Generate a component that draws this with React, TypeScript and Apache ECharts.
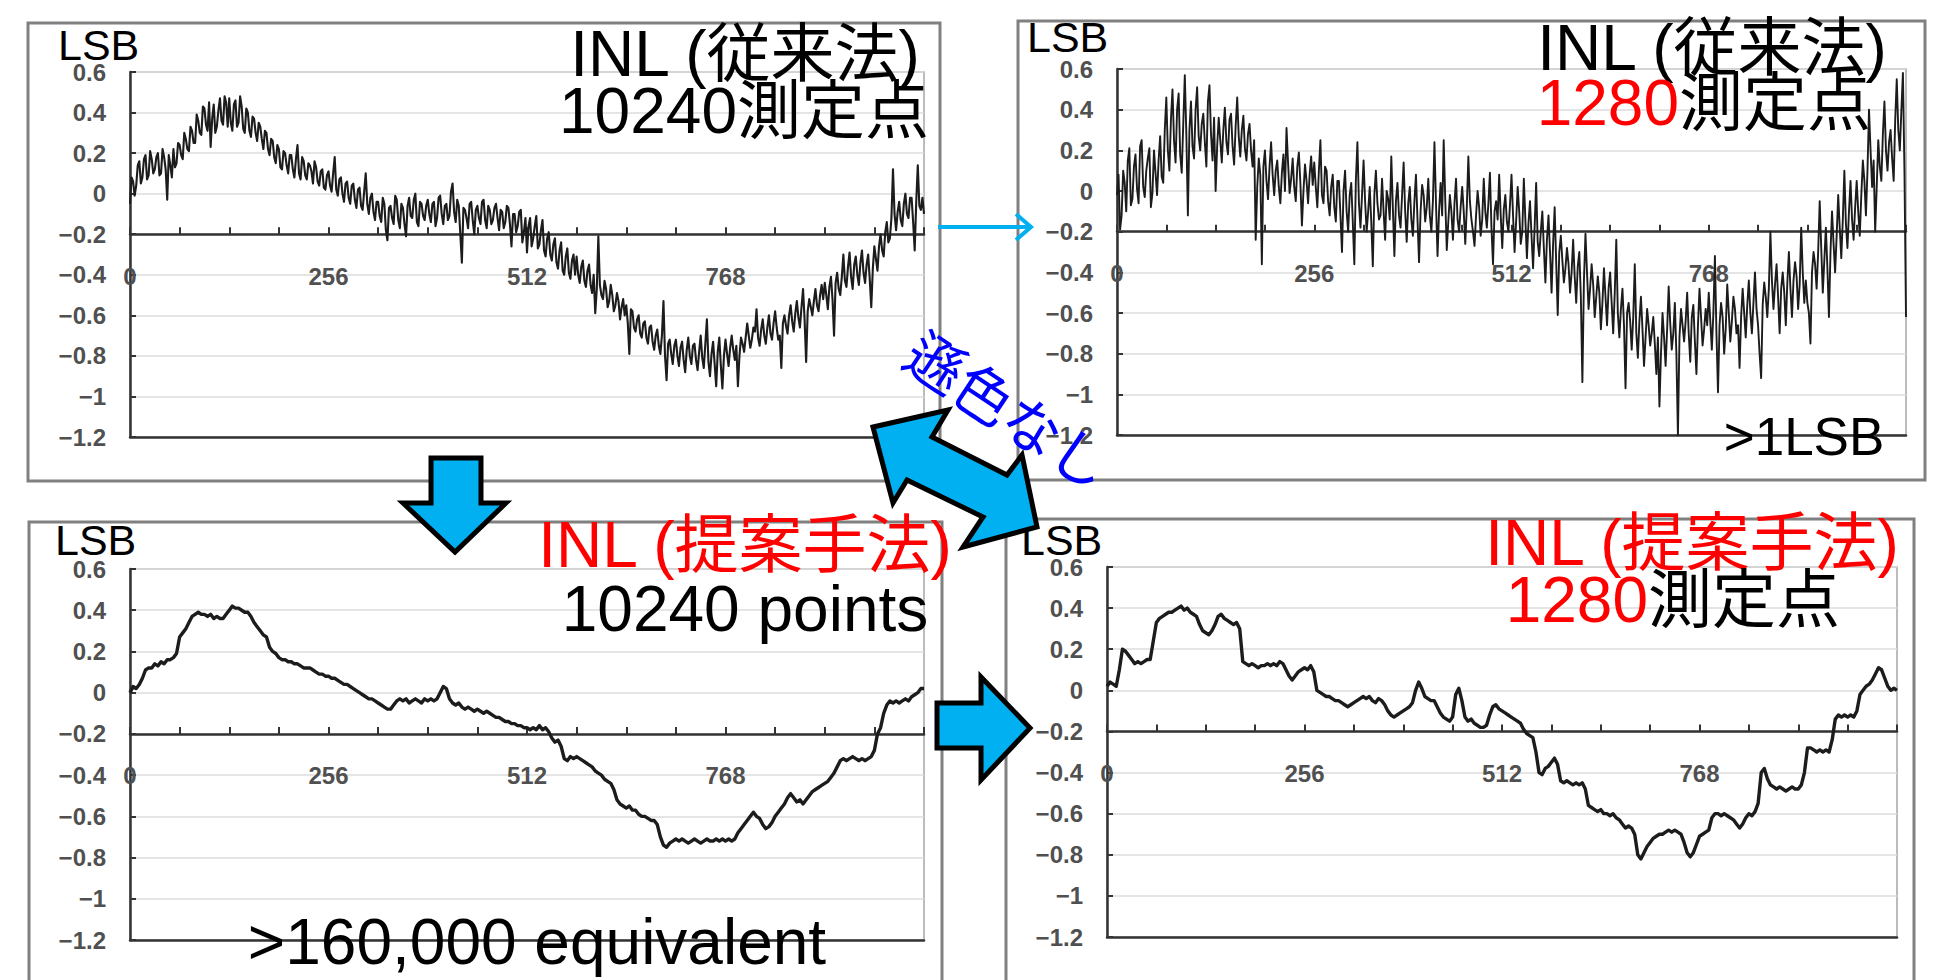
import React, { useEffect, useRef } from "react";
import * as echarts from "echarts";

// ---- data ----
const CODE_STEP = 4; // DAC code spacing between stored samples
const HALF_STEP = 2; // extra samples half-way between them (noisy traces)
const X_MAX = 1024;
const X_TICK = 64;
const X_LABELS = [0, 256, 512, 768];
const Y_MIN = -1.2;
const Y_MAX = 0.6;
const Y_STEP = 0.2;
const AXIS_CROSS = -0.2;

// INL, conventional method, 10240 measurement points (codes 0,4,8,...,1024)
const INL_CONV_10240 = [
  -0.05, 0.06, 0.04, 0.16, 0.08, 0.19, 0.09, 0.17, 0.12, 0.20, 0.10, 0.18, -0.03, 0.14, 0.22, 0.15,
  0.24, 0.17, 0.27, 0.21, 0.31, 0.25, 0.36, 0.29, 0.42, 0.31, 0.23, 0.44, 0.33, 0.47, 0.34, 0.45,
  0.47, 0.31, 0.46, 0.35, 0.43, 0.30, 0.40, 0.28, 0.37, 0.26, 0.33, 0.22, 0.30, 0.19, 0.26, 0.15,
  0.22, 0.12, 0.20, 0.10, 0.19, 0.08, 0.24, 0.07, 0.16, 0.07, 0.14, 0.05, 0.13, 0.04, 0.12, 0.02,
  0.11, 0.01, 0.18, -0.01, 0.08, -0.04, 0.06, -0.05, 0.05, -0.07, 0.03, -0.08, 0.10, -0.10, 0.00, -0.13,
  -0.04, -0.14, -0.05, -0.23, -0.06, -0.15, -0.03, -0.17, -0.07, -0.21, -0.02, -0.12, 0.00, -0.16, -0.05, -0.13,
  -0.03, -0.14, -0.04, -0.12, -0.01, -0.15, -0.05, -0.11, 0.05, -0.14, -0.06, -0.34, -0.08, -0.17, -0.04, -0.20,
  -0.06, -0.15, -0.03, -0.17, -0.08, -0.13, -0.05, -0.18, -0.09, -0.14, -0.07, -0.26, -0.10, -0.16, -0.08, -0.19,
  -0.29, -0.12, -0.22, -0.11, -0.25, -0.13, -0.31, -0.19, -0.33, -0.22, -0.37, -0.24, -0.40, -0.27, -0.42, -0.30,
  -0.31, -0.44, -0.33, -0.46, -0.35, -0.49, -0.59, -0.21, -0.50, -0.43, -0.56, -0.45, -0.58, -0.49, -0.62, -0.52,
  -0.55, -0.79, -0.58, -0.68, -0.60, -0.71, -0.63, -0.74, -0.65, -0.77, -0.67, -0.79, -0.53, -0.92, -0.72, -0.84,
  -0.72, -0.85, -0.73, -0.88, -0.71, -0.84, -0.74, -0.87, -0.70, -0.86, -0.62, -0.90, -0.73, -0.95, -0.71, -0.96,
  -0.72, -0.85, -0.70, -0.82, -0.95, -0.71, -0.78, -0.64, -0.76, -0.66, -0.57, -0.75, -0.62, -0.74, -0.60, -0.72,
  -0.58, -0.72, -0.86, -0.60, -0.69, -0.55, -0.68, -0.53, -0.66, -0.47, -0.83, -0.52, -0.60, -0.47, -0.58, -0.45,
  -0.44, -0.57, -0.41, -0.70, -0.39, -0.50, -0.30, -0.46, -0.29, -0.47, -0.31, -0.45, -0.28, -0.44, -0.30, -0.56,
  -0.26, -0.38, -0.20, -0.31, -0.14, -0.22, 0.12, -0.18, -0.04, -0.16, 0.00, -0.12, -0.02, -0.28, 0.14, -0.08, -0.10,
];
// same trace, codes 2,6,10,...,1022
const INL_CONV_10240_MID = [
  0.08, -0.01, 0.14, 0.05, 0.17, 0.07, 0.21, 0.10, 0.18, 0.09, 0.22, 0.12, 0.19, 0.08, 0.13, 0.25,
  0.19, 0.30, 0.22, 0.33, 0.25, 0.39, 0.30, 0.43, 0.34, 0.45, 0.37, 0.30, 0.41, 0.36, 0.48, 0.33,
  0.35, 0.44, 0.33, 0.48, 0.32, 0.42, 0.31, 0.38, 0.30, 0.35, 0.27, 0.31, 0.22, 0.27, 0.18, 0.24,
  0.13, 0.21, 0.14, 0.19, 0.12, 0.17, 0.10, 0.18, 0.09, 0.15, 0.11, 0.16, 0.06, 0.11, 0.03, 0.09,
  0.04, 0.10, 0.02, 0.07, 0.00, 0.05, -0.02, 0.04, -0.03, 0.02, -0.06, 0.01, -0.05, -0.02, -0.09, -0.04,
  -0.11, -0.02, -0.18, -0.07, -0.12, -0.01, -0.13, -0.05, -0.15, -0.06, -0.11, -0.03, -0.14, -0.04, -0.11, -0.06,
  -0.10, -0.05, -0.16, -0.02, -0.10, -0.06, -0.13, 0.01, -0.09, -0.03, -0.20, -0.07, -0.12, -0.05, -0.13, -0.08,
  -0.12, -0.04, -0.13, -0.06, -0.15, -0.07, -0.12, -0.08, -0.17, -0.06, -0.15, -0.10, -0.19, -0.09, -0.24, -0.12,
  -0.16, -0.26, -0.16, -0.27, -0.18, -0.28, -0.22, -0.30, -0.25, -0.34, -0.28, -0.38, -0.31, -0.39, -0.33, -0.40,
  -0.40, -0.36, -0.43, -0.38, -0.45, -0.40, -0.47, -0.45, -0.52, -0.47, -0.53, -0.50, -0.55, -0.53, -0.56, -0.60,
  -0.64, -0.57, -0.66, -0.62, -0.69, -0.64, -0.71, -0.66, -0.73, -0.70, -0.75, -0.70, -0.80, -0.74, -0.79, -0.75,
  -0.80, -0.76, -0.82, -0.77, -0.80, -0.75, -0.82, -0.78, -0.81, -0.74, -0.83, -0.79, -0.84, -0.78, -0.85, -0.80,
  -0.79, -0.76, -0.77, -0.75, -0.80, -0.74, -0.71, -0.70, -0.72, -0.68, -0.71, -0.67, -0.70, -0.66, -0.69, -0.64,
  -0.66, -0.70, -0.64, -0.65, -0.60, -0.63, -0.59, -0.61, -0.56, -0.62, -0.58, -0.56, -0.53, -0.55, -0.50, -0.52,
  -0.50, -0.46, -0.52, -0.44, -0.47, -0.41, -0.43, -0.36, -0.41, -0.35, -0.40, -0.34, -0.39, -0.35, -0.42, -0.37,
  -0.32, -0.26, -0.28, -0.19, -0.24, -0.12, -0.10, -0.09, -0.13, -0.05, -0.10, -0.02, -0.14, -0.04, -0.06, -0.02,
];

// INL, conventional method, 1280 measurement points (codes 0,4,...,1024)
const INL_CONV_1280 = [
  -0.02, -0.19, 0.10, -0.10, 0.21, -0.04, 0.18, -0.06, 0.25, -0.03, 0.16, -0.08, 0.20, -0.02, 0.27, 0.04,
  0.46, 0.10, 0.50, 0.14, 0.48, 0.09, 0.57, -0.12, 0.44, 0.16, 0.51, 0.20, 0.38, 0.12, 0.52, 0.15,
  0.00, 0.36, 0.14, 0.41, 0.18, 0.38, 0.13, 0.46, 0.17, 0.37, 0.15, 0.33, 0.12, -0.24, 0.16, -0.36,
  0.20, -0.04, 0.24, -0.02, 0.15, -0.06, 0.18, 0.31, -0.01, 0.16, -0.05, 0.19, -0.17, 0.13, -0.06, 0.17,
  0.14, -0.08, 0.25, -0.06, 0.10, -0.12, 0.08, -0.15, 0.05, -0.30, 0.10, -0.20, 0.04, -0.36, 0.24, -0.18,
  0.15, -0.20, 0.02, -0.37, 0.10, -0.14, 0.06, -0.24, -0.04, 0.17, -0.32, 0.04, -0.18, 0.14, -0.25, 0.02,
  -0.22, 0.08, -0.35, 0.03, -0.15, 0.06, -0.20, 0.24, -0.32, 0.04, 0.25, -0.29, -0.02, -0.24, 0.06, -0.20,
  0.02, -0.26, 0.17, -0.14, -0.27, 0.00, -0.22, 0.06, -0.18, 0.09, -0.36, -0.05, 0.08, -0.28, -0.02, -0.20,
  0.08, -0.30, 0.02, -0.26, 0.06, -0.33, -0.05, -0.38, 0.04, -0.32, -0.10, -0.45, -0.12, -0.50, -0.08, -0.61,
  -0.22, -0.45, -0.28, -0.50, -0.24, -0.55, -0.30, -0.94, -0.21, -0.58, -0.36, -0.62, -0.42, -0.68, -0.38, -0.66,
  -0.40, -0.70, -0.24, -0.72, -0.48, -0.97, -0.55, -0.78, -0.36, -0.82, -0.52, -0.86, -0.58, -0.76, -0.62, -0.90,
  -1.06, -0.60, -0.86, -0.47, -0.78, -0.55, -1.20, -0.58, -0.74, -0.50, -0.84, -0.56, -0.90, -0.48, -0.76, -0.58,
  -0.50, -0.78, -0.32, -0.99, -0.55, -0.80, -0.46, -0.74, -0.52, -0.70, -0.87, -0.48, -0.72, -0.44, -0.70, -0.40,
  -0.66, -0.92, -0.45, -0.62, -0.20, -0.58, -0.36, -0.70, -0.40, -0.66, -0.30, -0.62, -0.35, -0.58, -0.18, -0.55,
  -0.55, -0.75, -0.30, -0.48, -0.05, -0.50, -0.18, -0.62, -0.10, -0.40, -0.02, -0.33, 0.10, -0.28, 0.05, -0.24,
  0.05, -0.22, 0.15, -0.12, 0.40, 0.02, -0.20, 0.25, 0.05, 0.44, 0.10, 0.30, 0.05, 0.55, 0.20, 0.58, -0.62,
];
// same trace, codes 2,6,...,1022
const INL_CONV_1280_MID = [
  0.08, -0.12, 0.04, 0.15, -0.07, 0.12, 0.01, 0.22, 0.02, 0.10, 0.21, -0.01, 0.09, 0.15, 0.07, 0.30,
  0.20, 0.35, 0.25, 0.40, 0.18, 0.33, 0.28, 0.30, 0.22, 0.40, 0.27, 0.33, 0.24, 0.44, 0.28, 0.36,
  0.22, 0.25, 0.30, 0.24, 0.35, 0.22, 0.32, 0.27, 0.30, 0.21, 0.28, 0.20, 0.25, 0.02, 0.08, 0.12,
  0.05, 0.12, 0.08, 0.10, 0.02, 0.09, 0.00, 0.14, 0.06, 0.02, 0.12, 0.04, 0.00, 0.05, 0.08, 0.03,
  0.02, 0.10, -0.02, 0.12, -0.05, 0.02, -0.08, 0.05, -0.12, 0.00, -0.10, -0.02, -0.15, 0.05, -0.06, -0.02,
  -0.05, -0.10, -0.15, -0.02, -0.06, -0.12, -0.10, 0.00, -0.14, -0.08, -0.05, -0.12, -0.02, -0.10, -0.06, -0.14,
  -0.05, -0.14, -0.10, -0.02, -0.08, -0.12, -0.05, -0.06, -0.10, -0.12, -0.04, -0.15, -0.10, -0.06, -0.14, -0.08,
  -0.10, -0.08, -0.05, -0.20, -0.12, -0.08, -0.14, -0.10, -0.06, -0.18, -0.10, -0.14, -0.12, -0.09, -0.15, -0.07,
  -0.12, -0.15, -0.10, -0.20, -0.14, -0.16, -0.22, -0.18, -0.25, -0.20, -0.28, -0.24, -0.30, -0.26, -0.35, -0.30,
  -0.34, -0.38, -0.36, -0.40, -0.42, -0.37, -0.52, -0.44, -0.40, -0.48, -0.46, -0.52, -0.50, -0.55, -0.52, -0.48,
  -0.55, -0.50, -0.60, -0.58, -0.66, -0.60, -0.64, -0.62, -0.70, -0.64, -0.68, -0.72, -0.66, -0.70, -0.75, -0.72,
  -0.80, -0.72, -0.68, -0.65, -0.70, -0.80, -0.72, -0.66, -0.64, -0.70, -0.62, -0.74, -0.66, -0.62, -0.68, -0.66,
  -0.64, -0.60, -0.70, -0.66, -0.62, -0.68, -0.60, -0.64, -0.58, -0.66, -0.62, -0.60, -0.56, -0.60, -0.55, -0.58,
  -0.80, -0.56, -0.52, -0.48, -0.44, -0.46, -0.52, -0.48, -0.50, -0.45, -0.48, -0.44, -0.42, -0.46, -0.40, -0.44,
  -0.60, -0.40, -0.36, -0.30, -0.28, -0.34, -0.38, -0.30, -0.26, -0.22, -0.18, -0.14, -0.16, -0.10, -0.14, -0.08,
  -0.10, -0.02, 0.05, 0.10, 0.20, 0.15, 0.02, 0.12, 0.28, 0.20, 0.24, 0.16, 0.35, 0.30, 0.40, 0.10,
];

// INL, proposed method, 10240 points (codes 0,4,...,1024)
const INL_PROP_10240 = [
  0.00, 0.03, 0.02, 0.04, 0.07, 0.11, 0.12, 0.12, 0.14, 0.13, 0.15, 0.14, 0.16, 0.16, 0.17, 0.19,
  0.27, 0.29, 0.31, 0.34, 0.37, 0.38, 0.39, 0.38, 0.38, 0.37, 0.38, 0.36, 0.37, 0.36, 0.36, 0.38,
  0.40, 0.42, 0.41, 0.41, 0.40, 0.39, 0.39, 0.37, 0.34, 0.32, 0.30, 0.28, 0.27, 0.22, 0.20, 0.19,
  0.17, 0.16, 0.16, 0.15, 0.15, 0.14, 0.14, 0.13, 0.12, 0.12, 0.12, 0.11, 0.10, 0.09, 0.09, 0.08,
  0.08, 0.07, 0.07, 0.06, 0.05, 0.04, 0.04, 0.03, 0.02, 0.01, 0.00, -0.01, -0.02, -0.03, -0.03, -0.04,
  -0.05, -0.06, -0.07, -0.08, -0.08, -0.06, -0.04, -0.03, -0.04, -0.03, -0.05, -0.04, -0.03, -0.04, -0.05, -0.03,
  -0.04, -0.03, -0.04, -0.03, 0.00, 0.03, 0.02, -0.03, -0.05, -0.06, -0.05, -0.07, -0.08, -0.07, -0.08, -0.09,
  -0.08, -0.09, -0.10, -0.09, -0.10, -0.11, -0.12, -0.12, -0.13, -0.14, -0.14, -0.15, -0.15, -0.16, -0.16, -0.17,
  -0.17, -0.18, -0.17, -0.18, -0.16, -0.18, -0.17, -0.19, -0.22, -0.24, -0.23, -0.26, -0.32, -0.33, -0.31, -0.32,
  -0.31, -0.32, -0.33, -0.34, -0.35, -0.36, -0.38, -0.39, -0.40, -0.42, -0.43, -0.44, -0.47, -0.52, -0.54, -0.55,
  -0.56, -0.55, -0.57, -0.57, -0.59, -0.60, -0.60, -0.61, -0.62, -0.62, -0.64, -0.70, -0.74, -0.75, -0.73, -0.72,
  -0.71, -0.72, -0.71, -0.72, -0.73, -0.72, -0.71, -0.72, -0.73, -0.72, -0.71, -0.72, -0.72, -0.71, -0.72, -0.71,
  -0.72, -0.71, -0.72, -0.71, -0.68, -0.66, -0.64, -0.62, -0.60, -0.58, -0.60, -0.61, -0.64, -0.66, -0.65, -0.63,
  -0.60, -0.58, -0.56, -0.54, -0.51, -0.49, -0.51, -0.53, -0.52, -0.54, -0.52, -0.50, -0.48, -0.47, -0.46, -0.45,
  -0.44, -0.43, -0.41, -0.39, -0.36, -0.33, -0.32, -0.33, -0.32, -0.31, -0.32, -0.33, -0.32, -0.33, -0.32, -0.31,
  -0.28, -0.20, -0.17, -0.10, -0.06, -0.04, -0.05, -0.04, -0.05, -0.04, -0.03, -0.04, -0.02, -0.01, 0.00, 0.02, 0.02,
];

// INL, proposed method, 1280 measurement points (codes 0,4,...,1024)
const INL_PROP_1280 = [
  0.02, 0.04, 0.03, 0.02, 0.10, 0.20, 0.19, 0.17, 0.15, 0.13, 0.14, 0.13, 0.14, 0.15, 0.15, 0.24,
  0.33, 0.35, 0.36, 0.37, 0.38, 0.38, 0.39, 0.40, 0.41, 0.39, 0.40, 0.38, 0.37, 0.36, 0.32, 0.29,
  0.28, 0.27, 0.29, 0.32, 0.36, 0.37, 0.35, 0.34, 0.33, 0.32, 0.33, 0.30, 0.14, 0.13, 0.12, 0.13,
  0.12, 0.11, 0.12, 0.12, 0.13, 0.12, 0.13, 0.12, 0.14, 0.13, 0.10, 0.07, 0.05, 0.07, 0.09, 0.10,
  0.11, 0.10, 0.12, 0.09, 0.00, -0.01, -0.02, -0.03, -0.03, -0.04, -0.05, -0.05, -0.06, -0.07, -0.08, -0.07,
  -0.06, -0.05, -0.04, -0.03, -0.04, -0.03, -0.05, -0.06, -0.04, -0.05, -0.07, -0.10, -0.12, -0.13, -0.12, -0.11,
  -0.10, -0.09, -0.08, -0.06, 0.00, 0.04, 0.01, -0.03, -0.04, -0.05, -0.05, -0.08, -0.11, -0.13, -0.14, -0.15,
  -0.13, -0.02, 0.01, -0.05, -0.13, -0.15, -0.14, -0.16, -0.17, -0.18, -0.18, -0.17, -0.12, -0.08, -0.07, -0.09,
  -0.10, -0.11, -0.12, -0.13, -0.14, -0.15, -0.16, -0.19, -0.21, -0.22, -0.23, -0.30, -0.40, -0.41, -0.38, -0.37,
  -0.35, -0.33, -0.36, -0.44, -0.45, -0.44, -0.45, -0.46, -0.45, -0.46, -0.45, -0.48, -0.56, -0.57, -0.58, -0.59,
  -0.58, -0.60, -0.60, -0.61, -0.60, -0.62, -0.63, -0.65, -0.67, -0.66, -0.67, -0.70, -0.80, -0.82, -0.79, -0.76,
  -0.74, -0.72, -0.71, -0.70, -0.70, -0.69, -0.68, -0.69, -0.68, -0.69, -0.70, -0.74, -0.79, -0.81, -0.79, -0.75,
  -0.71, -0.70, -0.69, -0.68, -0.62, -0.60, -0.60, -0.61, -0.60, -0.61, -0.62, -0.63, -0.65, -0.67, -0.65, -0.62,
  -0.60, -0.61, -0.59, -0.55, -0.40, -0.38, -0.43, -0.46, -0.47, -0.48, -0.47, -0.48, -0.49, -0.48, -0.47, -0.48,
  -0.48, -0.46, -0.40, -0.28, -0.28, -0.29, -0.30, -0.29, -0.30, -0.29, -0.30, -0.24, -0.14, -0.12, -0.13, -0.12,
  -0.13, -0.12, -0.13, -0.10, -0.02, 0.00, 0.02, 0.03, 0.05, 0.08, 0.11, 0.10, 0.06, 0.02, 0.00, 0.01, 0.00,
];

// builds [code, value] pairs; optional half-step samples interleaved
function toPairs(main: number[], mid?: number[]) {
  const out: number[][] = [];
  main.forEach((v, i) => {
    out.push([i * CODE_STEP, v]);
    if (mid && i < mid.length) out.push([i * CODE_STEP + HALF_STEP, mid[i]]);
  });
  return out;
}

// ---- layout ----
const FONT = '"Liberation Sans", Arial, "Noto Sans CJK JP", sans-serif';
const CYAN = "#00b0f0";

const PANELS = [
  { left: 130, top: 72, width: 794, height: 365, data: toPairs(INL_CONV_10240, INL_CONV_10240_MID), lw: 2.1 },
  { left: 1117, top: 69, width: 789, height: 366, data: toPairs(INL_CONV_1280, INL_CONV_1280_MID), lw: 1.9 },
  { left: 130, top: 569, width: 794, height: 371, data: toPairs(INL_PROP_10240), lw: 3.4 },
  { left: 1107, top: 567, width: 790, height: 370, data: toPairs(INL_PROP_1280), lw: 3.4 },
];

const BOXES = [
  [28, 23, 912, 458],
  [1018, 21, 907, 459],
  [29, 522, 913, 470],
  [1006, 519, 908, 470],
];

type T = { text: string; x: number; y: number; size: number; color?: string; align?: string };
const TEXTS: T[] = [
  { text: "LSB", x: 58, y: 45, size: 43, align: "left" },
  { text: "LSB", x: 1027, y: 37, size: 43, align: "left" },
  { text: "LSB", x: 55, y: 540, size: 43, align: "left" },
  { text: "LSB", x: 1021, y: 540, size: 43, align: "left" },
  { text: "INL (従来法)", x: 745, y: 54, size: 64 },
  { text: "10240測定点", x: 744, y: 111, size: 64 },
  { text: "INL (従来法)", x: 1712, y: 48, size: 64 },
  { text: "1280", x: 1679, y: 103, size: 64, color: "#ff0000", align: "right" },
  { text: "測定点", x: 1679, y: 103, size: 64, align: "left" },
  { text: ">1LSB", x: 1804, y: 436, size: 53 },
  { text: "INL (提案手法)", x: 745, y: 545, size: 64, color: "#ff0000" },
  { text: "10240 points", x: 745, y: 609, size: 64 },
  { text: ">160,000 equivalent", x: 537, y: 942, size: 64 },
  { text: "INL (提案手法)", x: 1692, y: 543, size: 64, color: "#ff0000" },
  { text: "1280", x: 1648, y: 600, size: 64, color: "#ff0000", align: "right" },
  { text: "測定点", x: 1648, y: 600, size: 64, align: "left" },
];

const DOWN_ARROW = [[431, 458], [481, 458], [481, 503], [506, 503], [455, 552], [403, 503], [431, 503]];
const RIGHT_ARROW = [[937, 703], [981, 703], [981, 677], [1030, 728], [981, 780], [981, 748], [937, 748]];
const DOUBLE_ARROW = [[873, 427], [948, 410], [932, 437], [1007, 475], [1022, 455], [1037, 527], [963, 547], [983, 517], [907, 480], [893, 503]];

export default function App() {
  const ref = useRef<HTMLDivElement>(null);
  useEffect(() => {
    if (!ref.current) return;
    const chart = echarts.init(ref.current, undefined, { renderer: "svg" });
    const lineStyle = { color: "#333", width: 2.5 };
    const labelBase = { fontSize: 24, fontWeight: "bold", color: "#505050", fontFamily: FONT };

    const grid = PANELS.map((p) => ({
      left: p.left, top: p.top, width: p.width, height: p.height,
      show: true, borderColor: "#a6a6a6", borderWidth: 1.5,
      containLabel: false, outerBoundsMode: "none",
    }));

    const xAxis: any[] = [];
    PANELS.forEach((p, i) => {
      xAxis.push({
        gridIndex: i, type: "value", min: 0, max: X_MAX, interval: X_TICK,
        position: "top",
        offset: -(p.height * (Y_MAX - AXIS_CROSS)) / (Y_MAX - Y_MIN),
        axisLine: { show: true, onZero: false, lineStyle },
        axisTick: { show: true, inside: false, length: 7, lineStyle: { color: "#333", width: 2 } },
        axisLabel: {
          ...labelBase, show: true, inside: true, interval: 0, margin: 30,
          showMinLabel: true, showMaxLabel: true,
          formatter: (v: number) => (X_LABELS.includes(v) ? String(v) : ""),
        },
        splitLine: { show: false },
      });
      xAxis.push({
        gridIndex: i, type: "value", min: 0, max: X_MAX, position: "bottom",
        axisLine: { show: true, onZero: false, lineStyle },
        axisTick: { show: false }, axisLabel: { show: false }, splitLine: { show: false },
      });
    });

    const yAxis = PANELS.map((p, i) => ({
      gridIndex: i, type: "value", min: Y_MIN, max: Y_MAX, interval: Y_STEP,
      axisLine: { show: true, onZero: false, lineStyle },
      axisTick: { show: true, inside: true, length: 6, lineStyle: { color: "#333", width: 2 } },
      axisLabel: {
        ...labelBase, margin: 24,
        formatter: (v: number) => String(Math.round(v * 10) / 10).replace("-", "\u2212"),
      },
      splitLine: { show: true, lineStyle: { color: "#dcdcdc", width: 1.5 } },
    }));

    const series = PANELS.map((p, i) => ({
      type: "line", xAxisIndex: 2 * i, yAxisIndex: i,
      data: p.data,
      showSymbol: false, symbol: "none", silent: true, z: 3,
      lineStyle: { color: "#1c1c1c", width: p.lw, join: "round" },
    }));

    const elements: any[] = [];
    BOXES.forEach(([x, y, w, h]) =>
      elements.push({ type: "rect", shape: { x, y, width: w, height: h }, style: { fill: "none", stroke: "#808080", lineWidth: 3 }, z: 1, silent: true })
    );
    TEXTS.forEach((t) =>
      elements.push({
        type: "text", x: t.x, y: t.y, z: 100, silent: true,
        style: { text: t.text, fontSize: t.size, fontFamily: FONT, fill: t.color || "#000", align: t.align || "center", verticalAlign: "middle" },
      })
    );
    elements.push({ type: "polyline", shape: { points: [[938, 227], [1029, 227]] }, style: { stroke: CYAN, lineWidth: 4, fill: null }, z: 110 });
    elements.push({ type: "polyline", shape: { points: [[1016, 214], [1031, 227], [1016, 240]] }, style: { stroke: CYAN, lineWidth: 4, fill: null }, z: 110 });
    [DOWN_ARROW, RIGHT_ARROW, DOUBLE_ARROW].forEach((pts) =>
      elements.push({ type: "polygon", shape: { points: pts }, style: { fill: CYAN, stroke: "#000", lineWidth: 5, lineJoin: "miter" }, z: 110 })
    );
    elements.push({
      type: "text", x: 1010, y: 408, rotation: (-33.5 * Math.PI) / 180, z: 120,
      style: { text: "遜色なし", fontSize: 58, fontFamily: '"Noto Sans CJK JP", sans-serif', fill: "#0000ff", align: "center", verticalAlign: "middle" },
    });

    chart.setOption({
      animation: false,
      backgroundColor: "#fff",
      grid, xAxis, yAxis, series,
      graphic: { elements },
    });
    return () => chart.dispose();
  }, []);
  return <div ref={ref} style={{ position: "fixed", left: 0, top: 0, width: 1955, height: 980, background: "#fff" }} />;
}
